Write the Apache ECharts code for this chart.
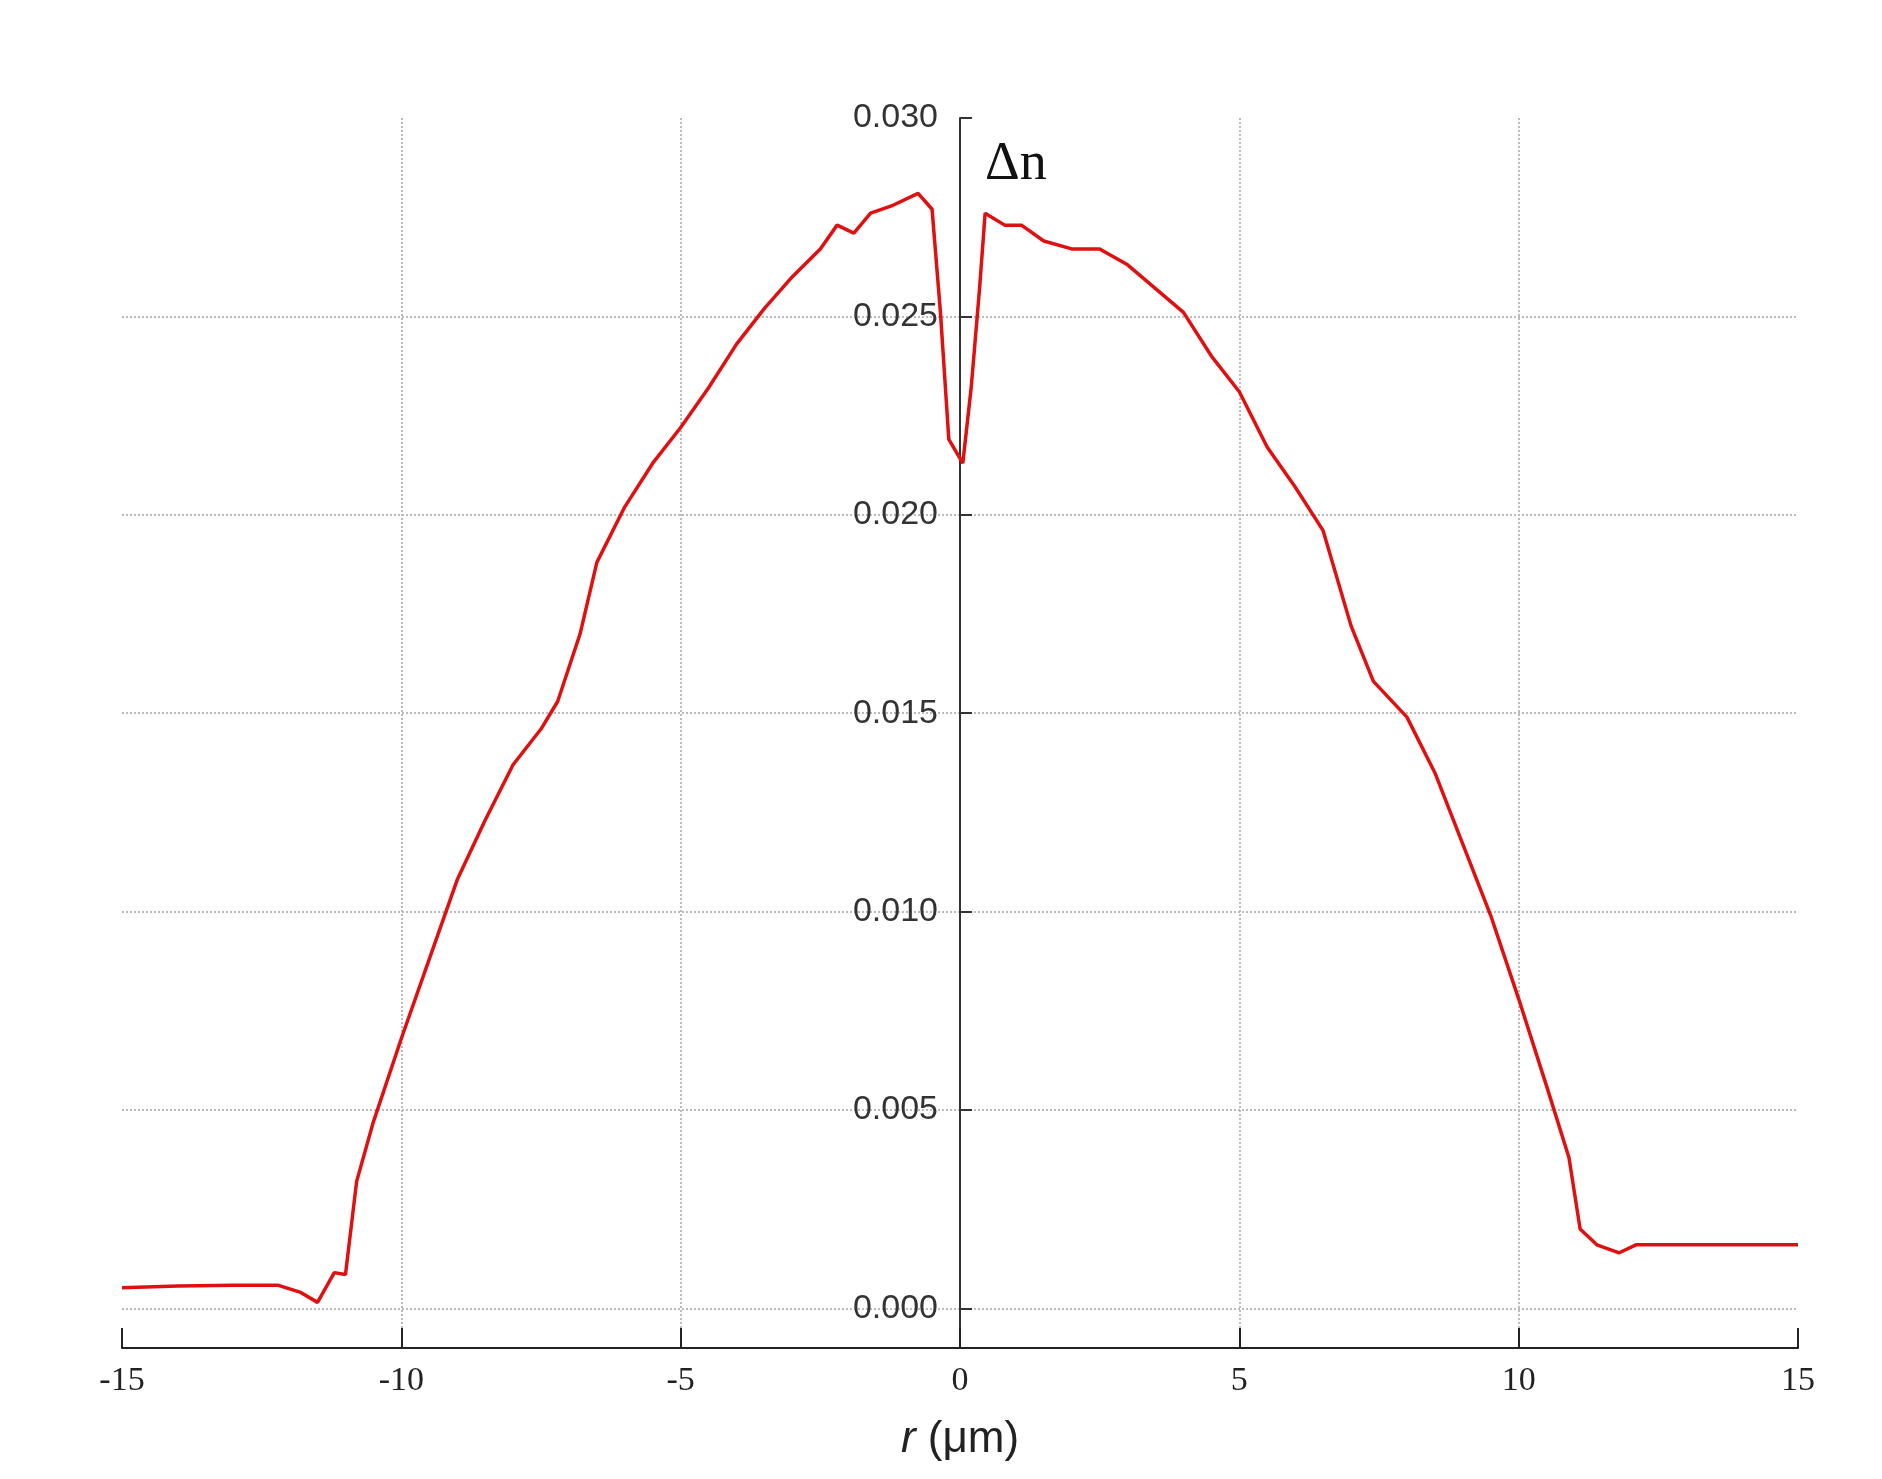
<!DOCTYPE html>
<html><head><meta charset="utf-8">
<script src="https://cdn.jsdelivr.net/npm/echarts@6/dist/echarts.min.js"></script>
<style>html,body{margin:0;background:#fff}#c{width:1882px;height:1479px}</style>
</head><body><div id="c"></div>
<script>
const rValues=[-15,-14,-13,-12.2,-11.8,-11.5,-11.2,-11.0,-10.8,-10.5,-10,-9.5,-9,-8.5,-8,-7.5,-7.2,-6.8,-6.5,-6,-5.5,-5,-4.5,-4,-3.5,-3,-2.5,-2.2,-1.9,-1.6,-1.2,-0.75,-0.5,-0.35,-0.2,0.05,0.2,0.35,0.45,0.8,1.1,1.5,2,2.5,3,3.5,4,4.5,5,5.5,6,6.5,7,7.4,8,8.5,9,9.5,10,10.5,10.9,11.1,11.4,11.8,12.1,13,14,15];
const dnValues=[0.00052,0.00056,0.00058,0.00058,0.0004,0.00015,0.0009,0.00085,0.0032,0.0047,0.0068,0.0088,0.0108,0.0123,0.0137,0.0146,0.0153,0.0170,0.0188,0.0202,0.0213,0.0222,0.0232,0.0243,0.0252,0.0260,0.0267,0.0273,0.0271,0.0276,0.0278,0.0281,0.0277,0.0251,0.0219,0.0213,0.0232,0.0257,0.0276,0.0273,0.0273,0.0269,0.0267,0.0267,0.0263,0.0257,0.0251,0.0240,0.0231,0.0217,0.0207,0.0196,0.0172,0.0158,0.0149,0.0135,0.0117,0.0099,0.0078,0.0056,0.0038,0.0020,0.0016,0.0014,0.0016,0.0016,0.0016,0.0016];
const xTicks=[-15,-10,-5,0,5,10,15];
const yTicks=[0,0.005,0.010,0.015,0.020,0.025,0.030];
const chart=echarts.init(document.getElementById('c'));
chart.setOption({
  animation:false,
  grid:{left:122,right:84,top:118,bottom:131},
  xAxis:{type:'value',min:-15,max:15,interval:5,
    axisLine:{onZero:false,lineStyle:{color:'#222',width:2}},
    axisTick:{inside:true,length:20,lineStyle:{color:'#222',width:2}},
    axisLabel:{fontFamily:'Liberation Serif',fontSize:34,color:'#222',margin:16},
    splitLine:{show:true,showMinLine:false,showMaxLine:false,lineStyle:{type:'dotted',color:'#bbb',width:2}},
    name:'{i|r} (μm)',nameLocation:'middle',nameGap:70,
    nameTextStyle:{fontFamily:'Liberation Sans',fontSize:44,color:'#222',rich:{i:{fontStyle:'italic',fontFamily:'Liberation Sans',fontSize:44,color:'#222'}}}},
  yAxis:{type:'value',min:-0.001,max:0.030,position:'left',offset:-838,
    customValues:yTicks,
    axisLine:{onZero:false,lineStyle:{color:'#333',width:2}},
    axisTick:{customValues:yTicks,inside:true,length:12,lineStyle:{color:'#333',width:2}},
    axisLabel:{customValues:yTicks,formatter:v=>v.toFixed(3),fontFamily:'Liberation Sans Narrow, Liberation Sans',fontSize:34,color:'#333',margin:22},
    splitLine:{show:true,showMaxLine:false,lineStyle:{type:'dotted',color:'#bbb',width:2}}},
  graphic:[{type:'text',left:985,top:138,style:{text:'Δn',font:'54px "Liberation Serif"',fill:'#111'}}],
  series:[{type:'line',data:rValues.map((r,i)=>[r,dnValues[i]]),showSymbol:false,
    lineStyle:{color:'#e01010',width:3.5}}]
});
</script></body></html>
